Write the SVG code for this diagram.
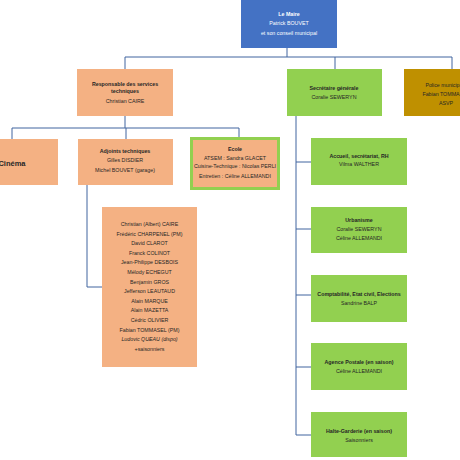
<svg xmlns="http://www.w3.org/2000/svg" width="460" height="460" viewBox="0 0 460 460">
<style>
text{font-family:"Liberation Sans",Arial,sans-serif;font-size:5.3px;text-anchor:middle;fill:#262626}
.b{font-weight:bold}
.w{fill:#ffffff}
.o{fill:#F4B183}
.g{fill:#92D050}
.c{fill:none;stroke:#41649F;stroke-width:1}
</style>
<rect width="460" height="460" fill="#ffffff"/>
<g id="connectors" class="c">
<path d="M287 48V57M125 57H452M125 57V69M335 57V69M452 57V69"/>
<path d="M125 116V128M12 128H239M12 128V139M126 128V139M239 128V137"/>
<path d="M87 185V287H102"/>
<path d="M296 116V435H311M296 162H311M296 229H311M296 295H311M296 367H311"/>
</g>
<g id="maire">
<rect x="241" y="0" width="96" height="48" fill="#4472C4"/>
<text class="b w" x="289" y="16">Le Maire</text>
<text class="w" x="289" y="25">Patrick BOUVET</text>
<text class="w" x="289" y="35">et son conseil municipal</text>
</g>
<g id="responsable">
<rect class="o" x="77" y="69" width="96" height="47"/>
<text class="b" x="125" y="86">Responsable des services</text>
<text class="b" x="125" y="93">techniques</text>
<text x="125" y="103">Christian CAIRE</text>
</g>
<g id="secretaire">
<rect class="g" x="287" y="69" width="95" height="47"/>
<text class="b" x="334" y="90">Secrétaire générale</text>
<text x="334" y="99">Coralie SEWERYN</text>
</g>
<g id="police">
<rect x="404" y="69" width="84" height="47" fill="#BF9000"/>
<text x="446" y="87">Police municipale</text>
<text x="446" y="96">Fabian TOMMASEL</text>
<text x="446" y="105">ASVP</text>
</g>
<g id="cinema">
<rect class="o" x="-34" y="139" width="92" height="46"/>
<text class="b" x="12" y="166" style="font-size:7.5px">Cinéma</text>
</g>
<g id="adjoints">
<rect class="o" x="78" y="139" width="95" height="46"/>
<text class="b" x="125" y="153">Adjoints techniques</text>
<text x="125" y="162">Gilles DISDIER</text>
<text x="125" y="172">Michel BOUVET (garage)</text>
</g>
<g id="ecole">
<rect class="o" x="191.5" y="138.5" width="87" height="50" stroke="#92D050" stroke-width="3"/>
<text class="b" x="235" y="151">Ecole</text>
<text x="235" y="160">ATSEM : Sandra GLACET</text>
<text x="235" y="168">Cuisine-Technique : Nicolas PERLI</text>
<text x="235" y="178">Entretien : Céline ALLEMANDI</text>
</g>
<g id="liste">
<rect class="o" x="102" y="207" width="95" height="160"/>
<text x="149.5" y="226">Christian (Albert) CAIRE</text>
<text x="149.5" y="235.6">Frédéric CHARPENEL (PM)</text>
<text x="149.5" y="245.2">David CLAROT</text>
<text x="149.5" y="254.8">Franck COLINOT</text>
<text x="149.5" y="264.4">Jean-Philippe DESBOIS</text>
<text x="149.5" y="274">Mélody ECHEGUT</text>
<text x="149.5" y="283.6">Benjamin GROS</text>
<text x="149.5" y="293.2">Jefferson LEAUTAUD</text>
<text x="149.5" y="302.8">Alain MARQUE</text>
<text x="149.5" y="312.4">Alain MAZETTA</text>
<text x="149.5" y="322">Cédric OLIVIER</text>
<text x="149.5" y="331.6">Fabian TOMMASEL (PM)</text>
<text x="149.5" y="341.2" font-style="italic">Ludovic QUEAU (dispo)</text>
<text x="149.5" y="350.8">+saisonniers</text>
</g>
<g id="accueil">
<rect class="g" x="311" y="138" width="96" height="47"/>
<text class="b" x="359" y="158">Accueil, secrétariat, RH</text>
<text x="359" y="166">Vilma WALTHER</text>
</g>
<g id="urbanisme">
<rect class="g" x="311" y="207" width="96" height="46"/>
<text class="b" x="359" y="222">Urbanisme</text>
<text x="359" y="231">Coralie SEWERYN</text>
<text x="359" y="240">Céline ALLEMANDI</text>
</g>
<g id="comptabilite">
<rect class="g" x="311" y="275" width="96" height="47"/>
<text class="b" x="359" y="296">Comptabilité, Etat civil, Elections</text>
<text x="359" y="305">Sandrine BALP</text>
</g>
<g id="agence">
<rect class="g" x="311" y="343" width="96" height="47"/>
<text class="b" x="359" y="364">Agence Postale (en saison)</text>
<text x="359" y="373">Céline ALLEMANDI</text>
</g>
<g id="halte">
<rect class="g" x="311" y="412" width="96" height="45"/>
<text class="b" x="359" y="433">Halte-Garderie (en saison)</text>
<text x="359" y="442">Saisonniers</text>
</g>
</svg>
